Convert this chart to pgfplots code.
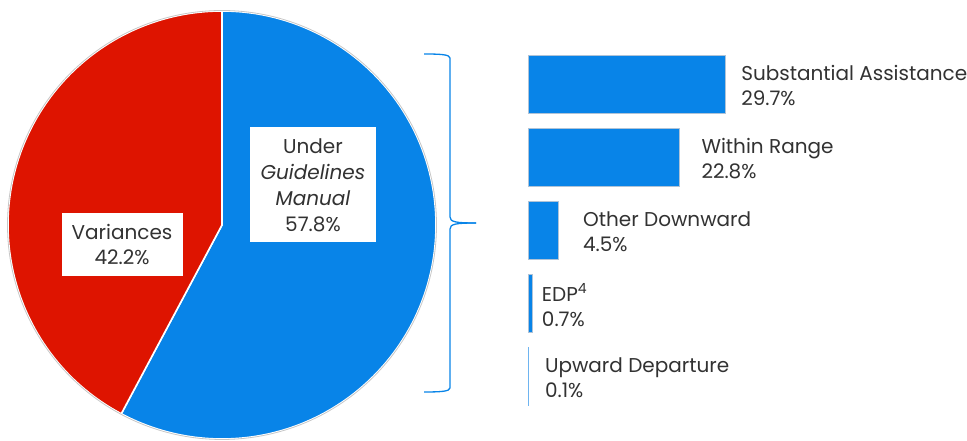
\documentclass[border=0pt]{standalone}
\usepackage{fontspec}
\setmainfont{Poppins}
\usepackage{pgfplots}
\pgfplotsset{compat=1.18}
\definecolor{pieblue}{RGB}{8,132,232}
\definecolor{piered}{RGB}{222,20,0}
\definecolor{txt}{RGB}{50,50,50}
\definecolor{barline}{RGB}{175,195,215}
\definecolor{thinblue}{RGB}{110,180,240}
% pie shares (percent)
\def\pieUnder{57.8}
\def\pieVar{42.2}
\begin{document}
\begin{tikzpicture}[x=1bp,y=1bp]
\useasboundingbox (0,0) rectangle (967,441);
% ---------- pie ----------
\begin{axis}[at={(222bp,216bp)}, anchor=center, width=428bp, height=428bp,
  scale only axis, xmin=-1, xmax=1, ymin=-1, ymax=1, hide axis, clip=false]
\pgfmathsetmacro{\splitang}{90-3.6*\pieUnder}
\filldraw[fill=pieblue, draw=white, line width=1.6bp] (axis cs:0,0) -- ++(90:214bp)
   arc[start angle=90, end angle=\splitang, radius=214bp] -- cycle;
\filldraw[fill=piered, draw=white, line width=1.6bp] (axis cs:0,0) -- ++(\splitang:214bp)
   arc[start angle=\splitang, end angle=-270, radius=214bp] -- cycle;
\draw[black!22, line width=0.8bp] (axis cs:0,0) circle[radius=214.5bp];
\node[fill=white, align=center, inner sep=0pt, minimum width=126bp, minimum height=115bp,
  text=txt, font=\fontsize{20bp}{26bp}\selectfont] at (axis cs:0.425,0.187)
  {Under\\\textit{Guidelines}\\\textit{Manual}\\\pieUnder\%};
\node[fill=white, align=center, inner sep=0pt, minimum width=121bp, minimum height=63bp,
  text=txt, font=\fontsize{20bp}{25bp}\selectfont] at (axis cs:-0.467,-0.093)
  {Variances\\\pieVar\%};
\end{axis}
% ---------- brace ----------
\draw[pieblue, line width=1.3bp] (424,387) .. controls (440,387) and (450,386.5) .. (450,383)
  -- (450,224) .. controls (450,219) and (456,218) .. (476,218);
\draw[pieblue, line width=1.3bp] (476,218) .. controls (456,218) and (450,217) .. (450,212)
  -- (450,53) .. controls (450,49.5) and (440,49) .. (424,49);
% ---------- bars ----------
\begin{axis}[at={(747.5bp,211bp)}, anchor=center, width=439bp, height=365bp,
  scale only axis, xmin=0, xmax=66.2, ymin=-0.5, ymax=4.5, y dir=reverse,
  hide axis, clip=false, xbar, bar width=58bp, bar shift=0pt, point meta=x,
  /pgf/number format/assume math mode=true,
  every node near coord/.append style={anchor=west, align=left, inner sep=0pt,
     text=txt, yshift=-2bp, font=\fontsize{20bp}{25bp}\selectfont}]
\addplot[fill=pieblue, draw=barline, line width=0.6bp,
  nodes near coords={Substantial Assistance\\\pgfmathprintnumber{\pgfplotspointmeta}\%},
  nodes near coords style={xshift=16bp}] coordinates {(29.7,0)};
\addplot[fill=pieblue, draw=barline, line width=0.6bp,
  nodes near coords={Within Range\\\pgfmathprintnumber{\pgfplotspointmeta}\%},
  nodes near coords style={xshift=22bp}] coordinates {(22.8,1)};
\addplot[fill=pieblue, draw=barline, line width=0.6bp,
  nodes near coords={Other Downward\\\pgfmathprintnumber{\pgfplotspointmeta}\%},
  nodes near coords style={xshift=25bp}] coordinates {(4.5,2)};
\addplot[fill=pieblue, draw=barline, line width=0.6bp,
  nodes near coords={EDP\textsuperscript{4}\\\pgfmathprintnumber{\pgfplotspointmeta}\%},
  nodes near coords style={xshift=9bp}] coordinates {(0.7,3)};
\addplot[fill=thinblue, draw=thinblue, line width=0.7bp,
  nodes near coords={Upward Departure\\\pgfmathprintnumber{\pgfplotspointmeta}\%},
  nodes near coords style={xshift=16bp}] coordinates {(0.1,4)};
\end{axis}
\end{tikzpicture}
\end{document}
